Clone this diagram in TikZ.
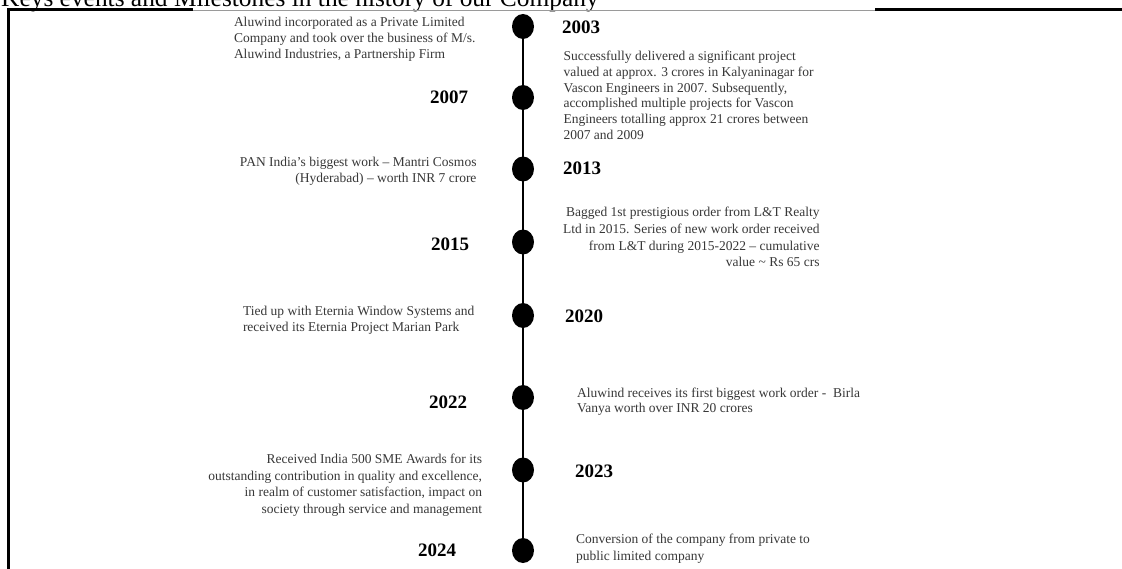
\documentclass[tikz,border=0pt]{standalone}
\usepackage{fontspec}
\setmainfont{Liberation Serif}
\usetikzlibrary{shapes.geometric}
\definecolor{bodygray}{HTML}{383838}
\definecolor{edgegray}{HTML}{9A9A9A}
\begin{document}
\begin{tikzpicture}[x=1pt,y=-1pt,
  body/.style={inner sep=0pt, outer sep=0pt, text=bodygray, font=\fontsize{13.5}{16}\selectfont},
  year/.style={inner sep=0pt, outer sep=0pt, text=black, font=\fontsize{19}{22}\selectfont\bfseries},
  dot/.style={ellipse, fill=black, draw=none, minimum width=22pt, minimum height=25pt, inner sep=0pt},
  timeline/.style={line width=2.7pt, black},
  framebar/.style={line width=2.7pt, black},
  edgeline/.style={line width=1.3pt, edgegray}]
\useasboundingbox (0,0) rectangle (1122,569);
\fill[white] (0,0) rectangle (1122,569);

% title (upper half cut by the page edge)
\node[anchor=base west, inner sep=0pt, font=\fontsize{25.4}{30}\selectfont] (title) at (1,6.5)
  {Keys events and Milestones in the history of our Company};

% frame
\coordinate (fbl) at (8.7,569);
\coordinate (ftl) at (8.7,9.5);
\coordinate (fa) at (193,9.5);
\coordinate (fb) at (875,9.5);
\coordinate (ftr) at (1122,9.5);
\coordinate (ga) at (193,10.5);
\coordinate (gb) at (875,10.5);
\draw[framebar] (fbl) -- (ftl) -- (fa);
\draw[framebar] (fb) -- (ftr);
\draw[edgeline] (ga) -- (gb);

% dots
\node[dot] (d2003) at (523,26.5) {};
\node[dot] (d2007) at (523,97.5) {};
\node[dot] (d2013) at (523,169) {};
\node[dot] (d2015) at (523,242) {};
\node[dot] (d2020) at (523,315.5) {};
\node[dot] (d2022) at (523,397.5) {};
\node[dot] (d2023) at (523,470) {};
\node[dot] (d2024) at (523,550.5) {};
\draw[timeline] (d2003.center) -- (d2024.center);

% years
\node[year, anchor=base west] (y2003) at (562,33.5) {2003};
\node[year, anchor=base east] (y2007) at (468,103.5) {2007};
\node[year, anchor=base west] (y2013) at (563,174.5) {2013};
\node[year, anchor=base east] (y2015) at (469,250.5) {2015};
\node[year, anchor=base west] (y2020) at (565,322.5) {2020};
\node[year, anchor=base east] (y2022) at (467,408) {2022};
\node[year, anchor=base west] (y2023) at (575,477) {2023};
\node[year, anchor=base east] (y2024) at (456,556.5) {2024};

% texts
\node[body, anchor=base west] (t2003) at (234,26.5) {\parbox[t]{300pt}{\raggedright
  Aluwind incorporated as a Private Limited\\
  Company and took over the business of M/s.\\
  Aluwind Industries, a Partnership Firm}};

\node[body, anchor=base west] (t2007) at (563.5,60.5) {\fontsize{13.5}{15.8}\selectfont\parbox[t]{300pt}{\raggedright
  Successfully delivered a significant project\\
  valued at approx. 3 crores in Kalyaninagar for\\
  Vascon Engineers in 2007. Subsequently,\\
  accomplished multiple projects for Vascon\\
  Engineers totalling approx 21 crores between\\
  2007 and 2009}};

\node[body, anchor=base east] (t2013) at (476.5,166.5) {\parbox[t]{300pt}{\raggedleft
  PAN India’s biggest work – Mantri Cosmos\\
  (Hyderabad) – worth INR 7 crore}};

\node[body, anchor=base east] (t2015) at (819.5,217) {\fontsize{13.5}{16.6}\selectfont\parbox[t]{300pt}{\raggedleft
  Bagged 1st prestigious order from L\&T Realty\\
  Ltd in 2015. Series of new work order received\\
  from L\&T during 2015-2022 – cumulative\\
  value \textasciitilde{} Rs 65 crs}};

\node[body, anchor=base west] (t2020) at (243,316) {\fontsize{13.5}{15.5}\selectfont\parbox[t]{300pt}{\raggedright
  Tied up with Eternia Window Systems and\\
  received its Eternia Project Marian Park}};

\node[body, anchor=base west] (t2022) at (577,397.5) {\fontsize{13.5}{15.3}\selectfont\parbox[t]{320pt}{\raggedright
  Aluwind receives its first biggest work order -\ \ Birla\\
  Vanya worth over INR 20 crores}};

\node[body, anchor=base east] (t2023) at (482,463.5) {\fontsize{13.5}{16.6}\selectfont\parbox[t]{320pt}{\raggedleft
  Received India 500 SME Awards for its\\
  outstanding contribution in quality and excellence,\\
  in realm of customer satisfaction, impact on\\
  society through service and management}};

\node[body, anchor=base west] (t2024) at (576,543.5) {\fontsize{13.5}{16.6}\selectfont\parbox[t]{300pt}{\raggedright
  Conversion of the company from private to\\
  public limited company}};
\end{tikzpicture}
\end{document}
